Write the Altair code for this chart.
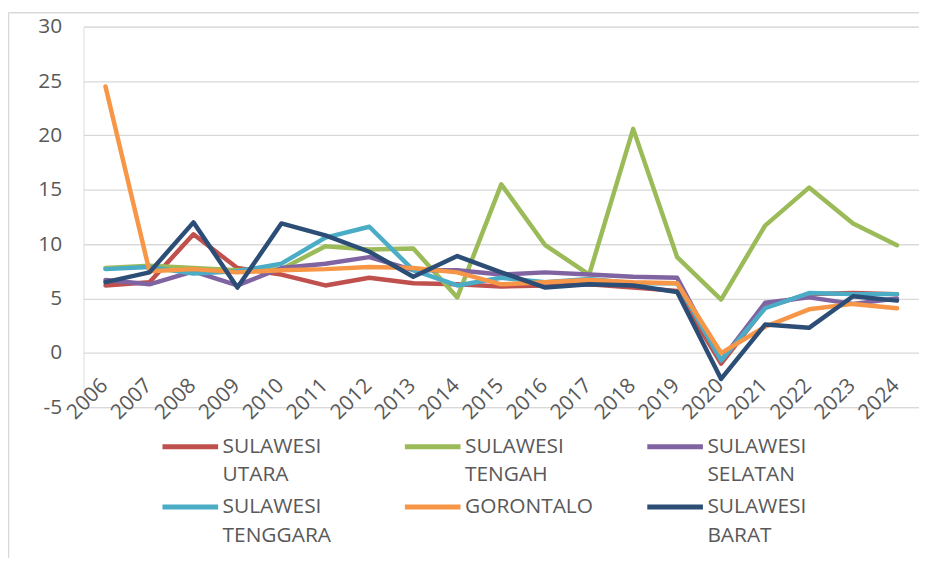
import altair as alt
import pandas as pd

years = [str(y) for y in range(2006, 2025)]

series_names = [
    "SULAWESI UTARA",
    "SULAWESI TENGAH",
    "SULAWESI SELATAN",
    "SULAWESI TENGGARA",
    "GORONTALO",
    "SULAWESI BARAT",
]
colors = ["#C0504D", "#9BBB59", "#8064A2", "#4BACC6", "#F79646", "#2C4D75"]

utara = [6.2, 6.5, 10.9, 7.8, 7.2, 6.2, 6.9, 6.4, 6.3, 6.1, 6.2, 6.3, 6.0, 5.7, -1.0, 4.2, 5.4, 5.5, 5.4]
tengah = [7.8, 8.0, 7.8, 7.6, 7.7, 9.8, 9.5, 9.6, 5.1, 15.5, 9.9, 7.2, 20.6, 8.8, 4.9, 11.7, 15.2, 11.9, 9.9]
selatan = [6.7, 6.3, 7.5, 6.2, 7.8, 8.2, 8.8, 7.6, 7.6, 7.2, 7.4, 7.2, 7.0, 6.9, -0.7, 4.6, 5.1, 4.5, 5.0]
tenggara = [7.7, 7.9, 7.3, 7.5, 8.2, 10.6, 11.6, 7.6, 6.2, 6.9, 6.5, 6.8, 6.4, 6.4, -0.7, 4.1, 5.5, 5.4, 5.4]
gorontalo = [24.5, 7.5, 7.7, 7.4, 7.6, 7.7, 7.9, 7.8, 7.4, 6.3, 6.5, 6.7, 6.5, 6.4, -0.02, 2.4, 4.0, 4.5, 4.1]
barat = [6.5, 7.4, 12.0, 6.0, 11.9, 10.8, 9.3, 7.0, 8.9, 7.4, 6.0, 6.3, 6.2, 5.6, -2.4, 2.6, 2.3, 5.2, 4.8]

all_values = [utara, tengah, selatan, tenggara, gorontalo, barat]

rows = []
for i, (name, vals) in enumerate(zip(series_names, all_values)):
    for y, v in zip(years, vals):
        rows.append({"Tahun": y, "Provinsi": name, "Nilai": v, "ord": i})
df = pd.DataFrame(rows)

FONT = "Open Sans"
TXT = "#595959"

lines = (
    alt.Chart(df)
    .mark_line(strokeWidth=4.5, strokeCap="round", strokeJoin="round")
    .encode(
        x=alt.X(
            "Tahun:O",
            sort=years,
            scale=alt.Scale(padding=0.5),
            axis=alt.Axis(
                title=None,
                labelAngle=-45,
                offset=-55,
                domain=False,
                ticks=False,
                labelPadding=22,
                labelOffset=-9,
                labelFontSize=21,
                labelFont=FONT,
                labelColor=TXT,
                grid=False,
            ),
        ),
        y=alt.Y(
            "Nilai:Q",
            scale=alt.Scale(domain=[-5, 30], nice=False, zero=False),
            axis=alt.Axis(
                title=None,
                values=[-5, 0, 5, 10, 15, 20, 25, 30],
                labelExpr="datum.value < 0 ? '-' + abs(datum.value) : datum.label",
                domain=False,
                ticks=False,
                labelPadding=22,
                labelFontSize=21,
                labelFont=FONT,
                labelColor=TXT,
                gridColor="#D9D9D9",
                gridWidth=1.3,
            ),
        ),
        color=alt.Color(
            "Provinsi:N",
            sort=series_names,
            scale=alt.Scale(domain=series_names, range=colors),
            legend=alt.Legend(
                title=None,
                orient="none",
                legendX=69,
                legendY=401,
                direction="horizontal",
                columns=3,
                columnPadding=44,
                rowPadding=-3,
                gridAlign="all",
                symbolType="M0,11L56,11",
                symbolStrokeWidth=5,
                symbolSize=4,
                labelFontSize=21,
                labelFont=FONT,
                labelColor=TXT,
                labelOffset=50,
                labelLimit=0,
                labelExpr="split(datum.label, ' ')",
                labelBaseline="top",
            ),
        ),
        order=alt.Order("ord:Q"),
    )
)

frame_df = pd.DataFrame({"k": [0]})
frame_left = alt.Chart(frame_df).mark_rule(color="#D9D9D9", strokeWidth=1.5).encode(
    x=alt.value(-75.5), y=alt.value(-14), y2=alt.value(560)
)
frame_top = alt.Chart(frame_df).mark_rule(color="#D9D9D9", strokeWidth=1.5).encode(
    x=alt.value(-75.5), x2=alt.value(860), y=alt.value(-14)
)

chart = (
    alt.layer(frame_left, frame_top, lines)
    .properties(
        width=841,
        height=383,
        autosize=alt.AutoSizeParams(type="none"),
        padding={"left": 76, "top": 17, "right": 0, "bottom": 150},
    )
    .configure_view(stroke=None)
    .configure(background="white", style={"guide-label": {"lineHeight": 29}})
)

chart.save("out.html", embed_options={"renderer": "svg", "actions": False})
